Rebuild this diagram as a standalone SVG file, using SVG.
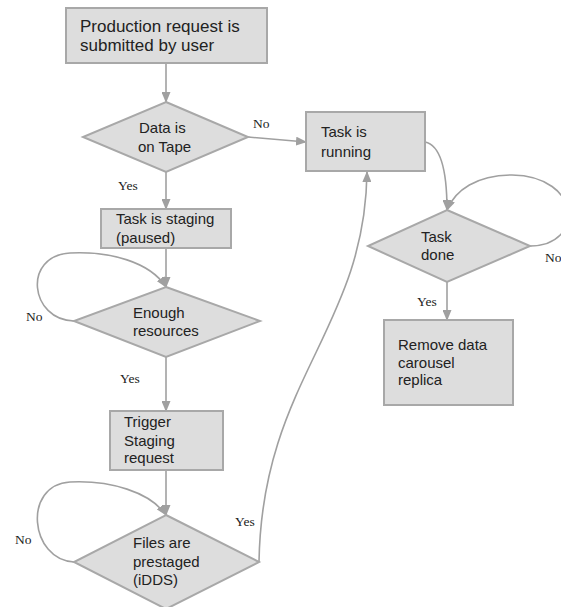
<svg xmlns="http://www.w3.org/2000/svg" width="561" height="607" viewBox="0 0 561 607">
<defs>
<marker id="ah" markerUnits="userSpaceOnUse" markerWidth="11" markerHeight="9" refX="10" refY="4.5" orient="auto">
<path d="M0,0 L11,4.5 L0,9 z" fill="#a0a0a0"/>
</marker>
<style>
.box{fill:#dddddd;stroke:#a8a8a8;stroke-width:2}
.t{font-family:"Liberation Sans",Arial,sans-serif;font-size:15px;fill:#222}
.big{font-size:17px}
.lbl{font-family:"Liberation Serif","Times New Roman",serif;font-size:13.5px;fill:#222}
.c{fill:none;stroke:#a0a0a0;stroke-width:1.6;marker-end:url(#ah)}
</style>
</defs>
<rect width="561" height="607" fill="#ffffff"/>

<g id="connectors">
<path class="c" d="M166,63 L166,102"/>
<path class="c" d="M166,172 L166,209"/>
<path class="c" d="M166,248 L166,287"/>
<path class="c" d="M166,357 L166,411"/>
<path class="c" d="M166,470 L166,515"/>
<path class="c" d="M248,137 L306,142"/>
<path class="c" d="M425,142 C440,145 447,168 447,210"/>
<path class="c" d="M447,282 L447,320"/>
<path class="c" d="M74,321 C30,320 22,256 70,253 C110,251 150,262 166,287"/>
<path class="c" d="M74,562 C30,560 22,485 70,482 C110,480 150,492 166,515"/>
<path class="c" d="M530,246 C585,246 582,176 512,175 C477,175 455,190 447,210"/>
<path class="c" d="M259,562 C262,380 365,330 367,172"/>
<text class="lbl" x="253" y="128">No</text>
<text class="lbl" x="118" y="190">Yes</text>
<text class="lbl" x="26" y="321">No</text>
<text class="lbl" x="120" y="383">Yes</text>
<text class="lbl" x="15" y="544">No</text>
<text class="lbl" x="235" y="526">Yes</text>
<text class="lbl" x="545" y="262">No</text>
<text class="lbl" x="417" y="306">Yes</text>
</g>

<g id="n1">
<rect class="box" x="66" y="8" width="201" height="55"/>
<text class="t big" x="80" y="32">Production request is</text>
<text class="t big" x="80" y="51">submitted by user</text>
</g>

<g id="n2">
<polygon class="box" points="166,102 248,137 166,172 83,137"/>
<text class="t" x="139" y="133">Data is</text>
<text class="t" x="138" y="152">on Tape</text>
</g>

<g id="n3">
<rect class="box" x="101" y="209" width="130" height="39"/>
<text class="t" x="116" y="224">Task is staging</text>
<text class="t" x="116" y="243">(paused)</text>
</g>

<g id="n4">
<polygon class="box" points="166,287 260,321 166,357 74,321"/>
<text class="t" x="133" y="318">Enough</text>
<text class="t" x="133" y="336">resources</text>
</g>

<g id="n5">
<rect class="box" x="110" y="411" width="113" height="59"/>
<text class="t" x="124" y="427">Trigger</text>
<text class="t" x="124" y="446">Staging</text>
<text class="t" x="124" y="463">request</text>
</g>

<g id="n6">
<polygon class="box" points="166,515 259,562 166,609 74,562"/>
<text class="t" x="133" y="548">Files are</text>
<text class="t" x="133" y="567">prestaged</text>
<text class="t" x="133" y="585">(iDDS)</text>
</g>

<g id="n7">
<rect class="box" x="306" y="112" width="119" height="59"/>
<text class="t" x="321" y="137">Task is</text>
<text class="t" x="321" y="157">running</text>
</g>

<g id="n8">
<polygon class="box" points="447,210 530,246 447,282 368,246"/>
<text class="t" x="421" y="242">Task</text>
<text class="t" x="421" y="260">done</text>
</g>

<g id="n9">
<rect class="box" x="384" y="320" width="129" height="85"/>
<text class="t" x="398" y="350">Remove data</text>
<text class="t" x="398" y="368">carousel</text>
<text class="t" x="398" y="385">replica</text>
</g>
</svg>
